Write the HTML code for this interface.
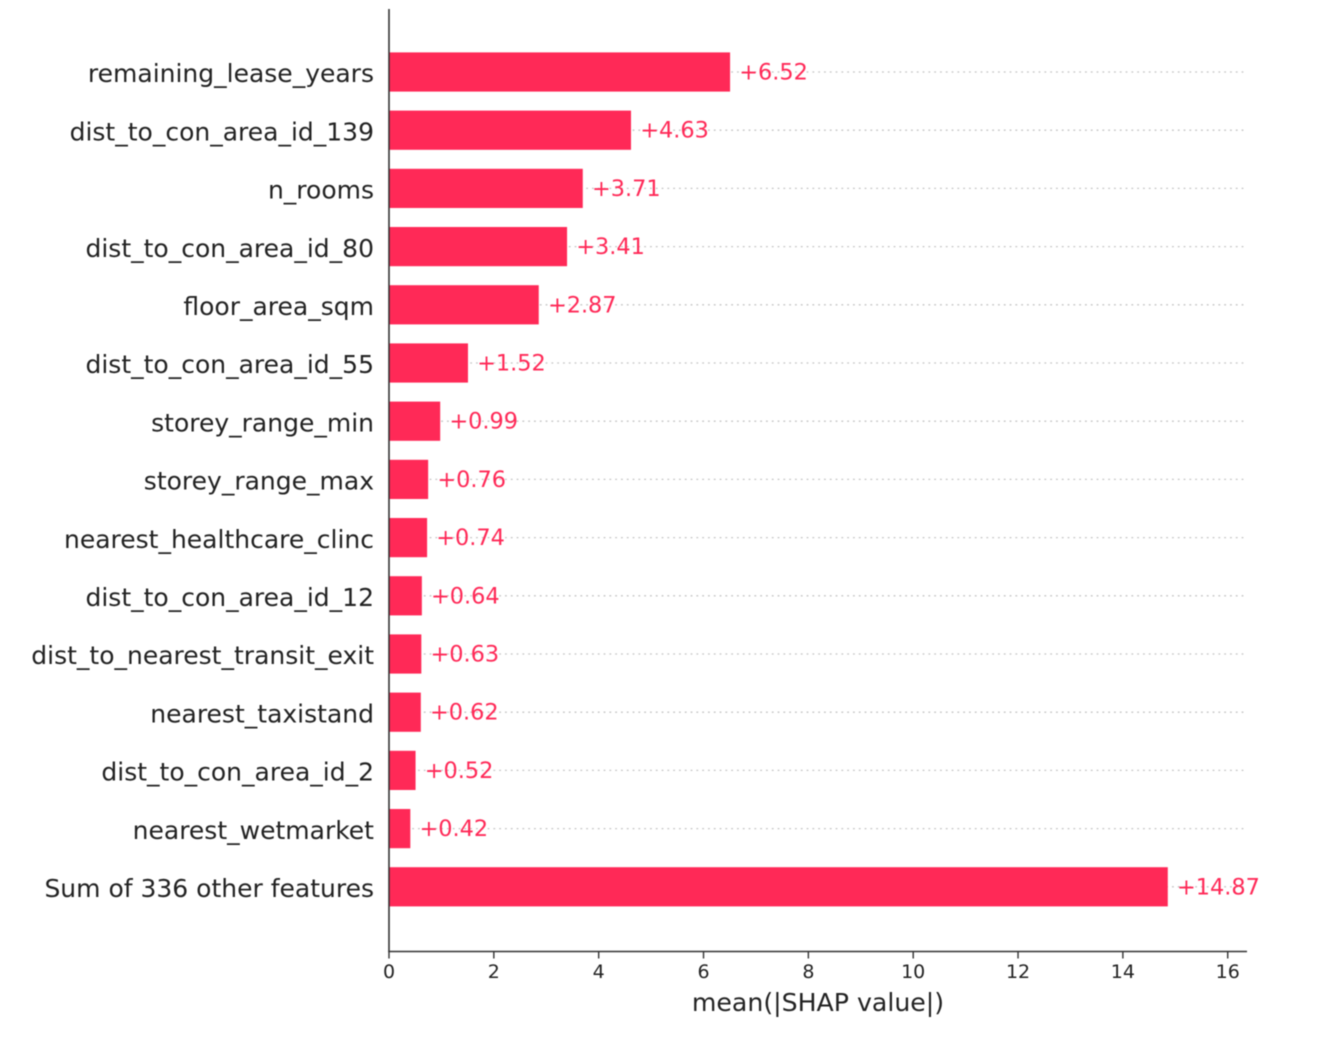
<!DOCTYPE html>
<html>
<head>
<meta charset="utf-8">
<style>
html,body{margin:0;padding:0;background:#fff;}
svg{display:block;}
text{font-family:"DejaVu Sans","Liberation Sans",sans-serif;}
</style>
</head>
<body>
<svg id="chart" xmlns="http://www.w3.org/2000/svg" width="1330" height="1045" viewBox="0 0 1330 1045">
<rect width="1330" height="1045" fill="#fff"/>
<g id="content" style="filter:blur(0.55px)"></g>
</svg>
<script>
const features = ["remaining_lease_years","dist_to_con_area_id_139","n_rooms","dist_to_con_area_id_80","floor_area_sqm","dist_to_con_area_id_55","storey_range_min","storey_range_max","nearest_healthcare_clinc","dist_to_con_area_id_12","dist_to_nearest_transit_exit","nearest_taxistand","dist_to_con_area_id_2","nearest_wetmarket","Sum of 336 other features"];
const shapValues = [6.52,4.63,3.71,3.41,2.87,1.52,0.99,0.76,0.74,0.64,0.63,0.62,0.52,0.42,14.87];
const xTicks = [0,2,4,6,8,10,12,14,16];
const axisTitle = "mean(|SHAP value|)";

const NS = "http://www.w3.org/2000/svg";
const root = document.getElementById("content");
const RED = "#ff2957";
const INK = "#222222";
const x0 = 389, xPerUnit = 52.42, xEnd = 1247;
const yFirst = 72, yStep = 58.2, barH = 39.2, axisY = 951.5;
const xScale = v => x0 + v * xPerUnit;
const yScale = i => yFirst + i * yStep;

function mk(tag, attrs, text) {
  const el = document.createElementNS(NS, tag);
  for (const k in attrs) el.setAttribute(k, attrs[k]);
  if (text !== undefined) el.textContent = text;
  root.appendChild(el);
  return el;
}

features.forEach((name, i) => {
  const y = yScale(i);
  const grid = mk("line", {x1: x0, x2: 1245, y1: y, y2: y, stroke: "#c4c4c4", "stroke-width": 1.3, "stroke-dasharray": "1.8 4"});
  
  

  const bar = mk("rect", {x: x0, y: y - barH / 2, width: xScale(shapValues[i]) - x0 - 0.7, height: barH, fill: RED});
  
  

  const label = mk("text", {x: 374, y: y + 10.2, "text-anchor": "end", "font-size": 25, fill: INK}, name);
  
  

  const val = mk("text", {x: xScale(shapValues[i]) + 8.5, y: y + 7.5, "font-size": 22.4, fill: RED}, "+" + shapValues[i].toFixed(2));
  
  
});

const ySpine = mk("line", {x1: x0, x2: x0, y1: 9, y2: axisY, stroke: "#333", "stroke-width": 1.6});



const xSpine = mk("line", {x1: x0 - 0.8, x2: xEnd, y1: axisY, y2: axisY, stroke: "#333", "stroke-width": 1.6});



xTicks.forEach(t => {
  const tick = mk("line", {x1: xScale(t), x2: xScale(t), y1: axisY, y2: axisY + 7, stroke: "#333", "stroke-width": 1.4});
  
  

  const tl = mk("text", {x: xScale(t), y: 978, "text-anchor": "middle", "font-size": 19, fill: INK}, String(t));
  
  
});

const title = mk("text", {x: 818, y: 1011, "text-anchor": "middle", "font-size": 25.2, fill: INK}, axisTitle);


</script>
</body>
</html>
